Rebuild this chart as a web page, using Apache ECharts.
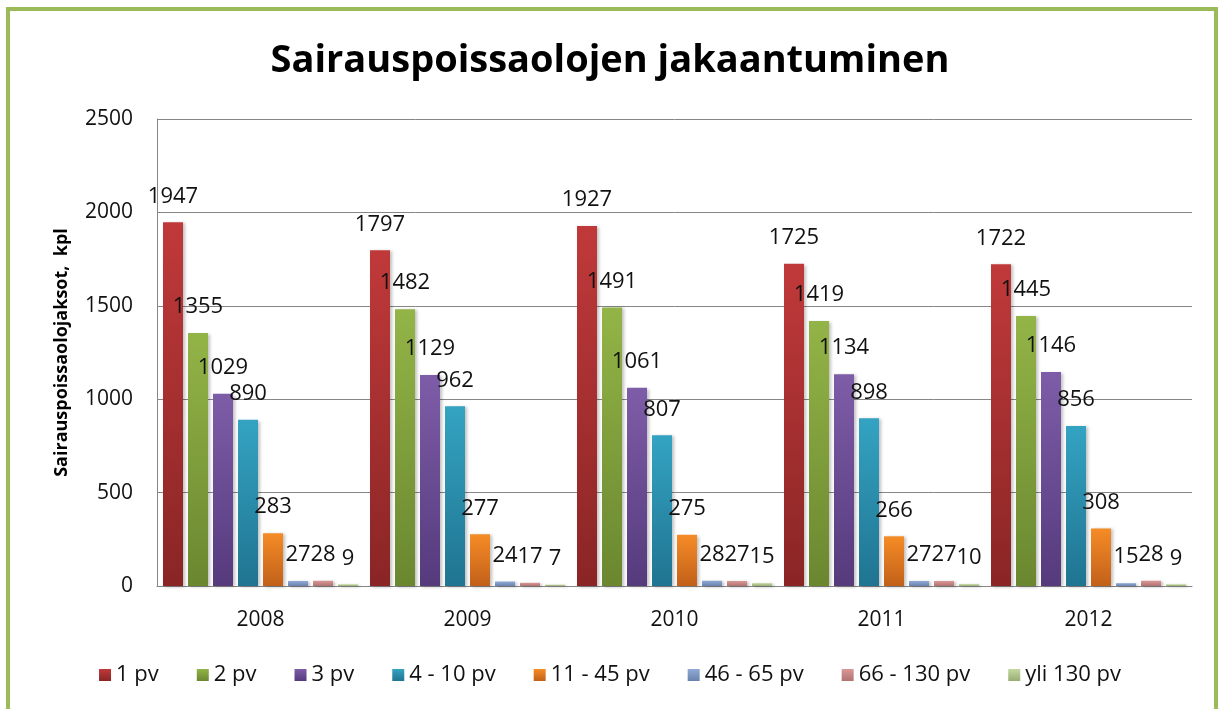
<!DOCTYPE html>
<html>
<head>
<meta charset="utf-8">
<script src="https://cdn.jsdelivr.net/npm/echarts@6/dist/echarts.min.js"></script>
<style>html,body{margin:0;padding:0;background:#fff;}#c{width:1220px;height:709px;}</style>
</head>
<body>
<div id="c"></div>
<script>
var years = ['2008', '2009', '2010', '2011', '2012'];
var seriesNames = ['1 pv', '2 pv', '3 pv', '4 - 10 pv', '11 - 45 pv', '46 - 65 pv', '66 - 130 pv', 'yli 130 pv'];
var v1pv = [1947, 1797, 1927, 1725, 1722];
var v2pv = [1355, 1482, 1491, 1419, 1445];
var v3pv = [1029, 1129, 1061, 1134, 1146];
var v4to10 = [890, 962, 807, 898, 856];
var v11to45 = [283, 277, 275, 266, 308];
var v46to65 = [27, 24, 28, 27, 15];
var v66to130 = [28, 17, 27, 27, 28];
var vYli130 = [9, 7, 15, 10, 9];
var yTicks = [0, 500, 1000, 1500, 2000, 2500];

var allValues = [v1pv, v2pv, v3pv, v4to10, v11to45, v46to65, v66to130, vYli130];
var topColors = ['#C0393A', '#93B447', '#7E5DA8', '#34A3C2', '#F68C26', '#90A9D6', '#DA9896', '#C4D8A0'];
var bottomColors = ['#8A2525', '#6A8730', '#553A7C', '#1F7491', '#C1601A', '#6A83AE', '#B07272', '#98AE74'];

var chart = echarts.init(document.getElementById('c'), null, {renderer: 'canvas'});
var series = seriesNames.map(function (n, i) {
  return {
    name: n,
    type: 'bar',
    data: allValues[i],
    barWidth: 20,
    barGap: '25%',
    itemStyle: {
      color: new echarts.graphic.LinearGradient(0, 0, 0, 1, [
        {offset: 0, color: topColors[i]},
        {offset: 1, color: bottomColors[i]}
      ]),
      shadowBlur: 3,
      shadowOffsetX: 2,
      shadowOffsetY: 1,
      shadowColor: 'rgba(0,0,0,0.25)'
    },
    label: {
      show: true,
      position: 'top',
      distance: 15,
      color: '#111',
      fontFamily: 'Open Sans',
      fontSize: 22
    }
  };
});

chart.setOption({
  animation: false,
  backgroundColor: '#fff',
  color: topColors,
  title: {
    text: 'Sairauspoissaolojen jakaantuminen',
    left: 'center',
    top: 37,
    textStyle: {fontFamily: 'Open Sans', fontWeight: 'bold', fontSize: 38, color: '#000'}
  },
  graphic: [{
    type: 'rect',
    shape: {x: 8, y: 9, width: 1208, height: 710},
    style: {fill: 'none', stroke: '#9BBB59', lineWidth: 4},
    silent: true
  }],
  legend: {
    bottom: 18,
    left: 'center',
    itemWidth: 12,
    itemHeight: 12,
    itemGap: 38,
    icon: 'rect',
    textStyle: {fontFamily: 'Open Sans', fontSize: 22, color: '#111'},
    data: seriesNames
  },
  grid: {left: 157, right: 28, top: 119, bottom: 123, containLabel: false},
  xAxis: {
    type: 'category',
    data: years,
    axisLine: {lineStyle: {color: '#868686'}},
    axisTick: {show: false},
    axisLabel: {margin: 24, fontFamily: 'Open Sans', fontSize: 21, color: '#111'}
  },
  yAxis: {
    type: 'value',
    min: yTicks[0],
    max: yTicks[yTicks.length - 1],
    interval: 500,
    name: 'Sairauspoissaolojaksot,  kpl',
    nameLocation: 'middle',
    nameGap: 86,
    nameTextStyle: {fontFamily: 'Open Sans', fontWeight: 'bold', fontSize: 18, color: '#000'},
    axisLine: {show: true, lineStyle: {color: '#868686'}},
    axisTick: {show: false},
    splitLine: {lineStyle: {color: '#868686'}},
    axisLabel: {margin: 24, fontFamily: 'Open Sans', fontSize: 21, color: '#111',
      formatter: function (v) { return String(v); }}
  },
  series: series
});
</script>
</body>
</html>
